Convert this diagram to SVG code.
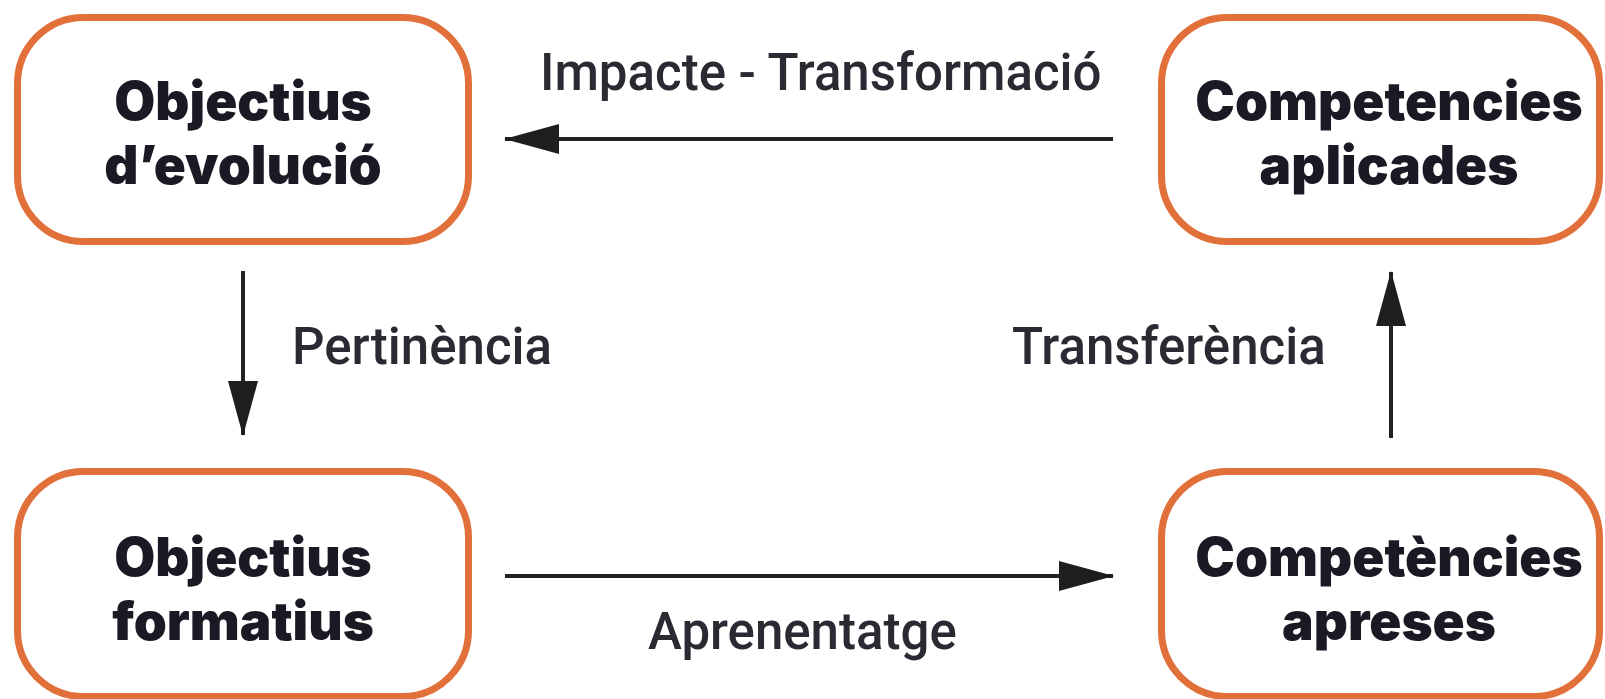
<svg xmlns="http://www.w3.org/2000/svg" width="1605" height="699" viewBox="0 0 1605 699">
<defs>
<style>
.box{fill:#ffffff;stroke:#E2703A;stroke-width:7}
.nt{font-family:Inter,"Liberation Sans",sans-serif;font-weight:900;font-size:53px;fill:#1a1a24;text-anchor:middle}
.lt{font-family:Roboto,"Liberation Sans",sans-serif;font-weight:500;font-size:51px;fill:#2a2a32}
.ln{stroke:#222;stroke-width:4;fill:none}
</style>
<marker id="ah" viewBox="0 0 55 30" refX="54" refY="15" markerWidth="55" markerHeight="30" markerUnits="userSpaceOnUse" orient="auto">
<path d="M0,0 L55,15 L0,30 Z" fill="#1e1e1e"/>
</marker>
</defs>
<rect width="1605" height="699" fill="#ffffff"/>
<g id="connectors">
<line class="ln" x1="1113" y1="139" x2="505" y2="139" marker-end="url(#ah)"/>
<line class="ln" x1="243" y1="271" x2="243" y2="435" marker-end="url(#ah)"/>
<line class="ln" x1="1391" y1="438" x2="1391" y2="272" marker-end="url(#ah)"/>
<line class="ln" x1="505" y1="576" x2="1113" y2="576" marker-end="url(#ah)"/>
<text class="lt" x="540" y="90">Impacte - Transformació</text>
<text class="lt" x="292" y="364">Pertinència</text>
<text class="lt" x="1012" y="364">Transferència</text>
<text class="lt" x="648" y="649">Aprenentatge</text>
</g>
<g id="node-objectius-evolucio">
<rect class="box" x="17.5" y="17.5" width="451" height="224" rx="66"/>
<text class="nt" x="243" y="120">Objectius</text>
<text class="nt" x="243" y="184">d’evolució</text>
</g>
<g id="node-competencies-aplicades">
<rect class="box" x="1161.5" y="17.5" width="438" height="224" rx="66"/>
<text class="nt" x="1389" y="120">Competencies</text>
<text class="nt" x="1389" y="184">aplicades</text>
</g>
<g id="node-objectius-formatius">
<rect class="box" x="17.5" y="471.5" width="451" height="225" rx="66"/>
<text class="nt" x="243" y="576">Objectius</text>
<text class="nt" x="243" y="640">formatius</text>
</g>
<g id="node-competencies-apreses">
<rect class="box" x="1161.5" y="471.5" width="438" height="225" rx="66"/>
<text class="nt" x="1389" y="576">Competències</text>
<text class="nt" x="1389" y="640">apreses</text>
</g>
</svg>
